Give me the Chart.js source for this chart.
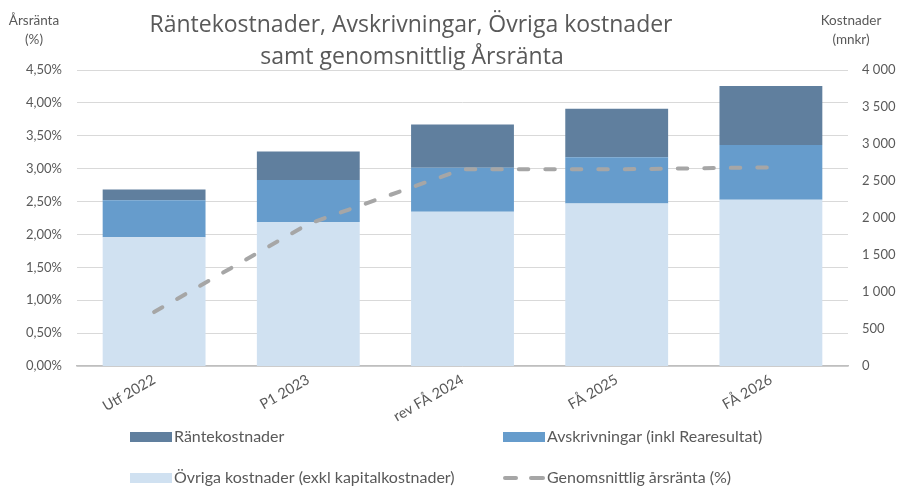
<!DOCTYPE html>
<html>
<head>
<meta charset="utf-8">
<script src="https://cdn.jsdelivr.net/npm/chart.js@4.4.1/dist/chart.umd.min.js"></script>
<style>
  html, body { margin: 0; padding: 0; background: #fff; }
  #wrap { width: 897px; height: 489px; position: relative; }
</style>
</head>
<body>
<div id="wrap"><canvas id="chart"></canvas></div>
<script>
// Data
const categories = ['Utf 2022', 'P1 2023', 'rev FÅ 2024', 'FÅ 2025', 'FÅ 2026'];
const ovrigaKostnader = [1740, 1945, 2085, 2195, 2245];   // mnkr
const avskrivningar = [500, 570, 595, 625, 740];          // mnkr
const rantekostnader = [145, 385, 585, 655, 800];         // mnkr
const arsranta = [0.82, 2.16, 2.99, 2.99, 3.02];          // %
const leftTicks = { min: 0, max: 4.5, step: 0.5 };
const rightTicks = { min: 0, max: 4000, step: 500 };

const textColor = '#595959';
const fontFamily = 'Lato, "Open Sans", sans-serif';

// Title, axis captions and the two-column legend are drawn by hand
const decorPlugin = {
    id: 'decor',
    afterDraw(chart) {
        const c = chart.ctx;
        c.save();
        c.fillStyle = textColor;
        c.textBaseline = 'middle';
        c.textAlign = 'center';

        // Title
        c.font = '23px "Open Sans", sans-serif';
        c.fillText('Räntekostnader, Avskrivningar, Övriga kostnader', 411, 25);
        c.fillText('samt genomsnittlig Årsränta', 412, 57);

        // Axis captions
        c.font = '13.5px ' + fontFamily;
        c.fillText('Årsränta', 34, 21);
        c.fillText('(%)', 34, 40);
        c.fillText('Kostnader', 851, 21);
        c.fillText('(mnkr)', 851, 40);

        // Legend
        c.font = '16px ' + fontFamily;
        c.textAlign = 'left';
        const ds = chart.data.datasets;
        const items = [
            { d: ds[2], x: 130, y: 437 },
            { d: ds[1], x: 503, y: 437 },
            { d: ds[0], x: 130, y: 478 },
            { d: ds[3], x: 503, y: 478 }
        ];
        items.forEach(it => {
            if (it.d.type === 'line') {
                c.strokeStyle = it.d.borderColor;
                c.lineWidth = 4;
                c.lineCap = 'round';
                c.beginPath(); c.moveTo(it.x + 2, it.y); c.lineTo(it.x + 13, it.y); c.stroke();
                c.beginPath(); c.moveTo(it.x + 28, it.y); c.lineTo(it.x + 40, it.y); c.stroke();
            } else {
                c.fillStyle = it.d.backgroundColor;
                c.fillRect(it.x, it.y - 5, 42, 10);
            }
            c.fillStyle = textColor;
            c.fillText(it.d.label, it.x + 44, it.y);
        });
        c.restore();
    }
};

const ctx = document.getElementById('chart').getContext('2d');
const chart = new Chart(ctx, {
    type: 'bar',
    data: {
        labels: categories,
        datasets: [
            {
                label: 'Övriga kostnader (exkl kapitalkostnader)',
                data: ovrigaKostnader,
                backgroundColor: '#D0E1F1',
                yAxisID: 'y1',
                order: 1
            },
            {
                label: 'Avskrivningar (inkl Rearesultat)',
                data: avskrivningar,
                backgroundColor: '#669CCC',
                yAxisID: 'y1',
                order: 1
            },
            {
                label: 'Räntekostnader',
                data: rantekostnader,
                backgroundColor: '#607F9E',
                yAxisID: 'y1',
                order: 1
            },
            {
                type: 'line',
                label: 'Genomsnittlig årsränta (%)',
                data: arsranta,
                borderColor: '#A6A6A6',
                borderWidth: 4,
                borderDash: [9.5, 17],
                borderCapStyle: 'round',
                pointRadius: 0,
                tension: 0,
                fill: false,
                yAxisID: 'y',
                order: 0
            }
        ]
    },
    options: {
        responsive: true,
        maintainAspectRatio: false,
        animation: false,
        layout: { padding: { top: 70, left: 0, right: 0, bottom: 0 } },
        datasets: {
            bar: { categoryPercentage: 1, barPercentage: 0.667, borderWidth: 0 }
        },
        plugins: {
            legend: { display: false },
            title: { display: false },
            tooltip: { enabled: false }
        },
        scales: {
            x: {
                stacked: true,
                grid: { display: false, drawTicks: false },
                border: { display: true, color: '#BFBFBF', width: 1.5 },
                ticks: {
                    color: textColor,
                    font: { family: fontFamily, size: 14.5 },
                    minRotation: 30,
                    maxRotation: 30,
                    padding: 5
                },
                afterFit(scale) { scale.height = 123; }
            },
            y: {
                position: 'left',
                min: leftTicks.min,
                max: leftTicks.max,
                grid: { color: '#D9D9D9', lineWidth: 1, drawTicks: false },
                border: { display: false },
                ticks: {
                    stepSize: leftTicks.step,
                    color: textColor,
                    font: { family: fontFamily, size: 13 },
                    padding: 15,
                    callback: v => v.toFixed(2).replace('.', ',') + '%'
                },
                afterFit(scale) { scale.width = 77; }
            },
            y1: {
                position: 'right',
                stacked: true,
                min: rightTicks.min,
                max: rightTicks.max,
                grid: { display: false, drawTicks: false },
                border: { display: false },
                ticks: {
                    stepSize: rightTicks.step,
                    color: textColor,
                    font: { family: fontFamily, size: 13 },
                    padding: 14,
                    callback: v => v >= 1000 ? Math.floor(v / 1000) + ' ' + String(v % 1000).padStart(3, '0') : String(v)
                },
                afterFit(scale) { scale.width = 49; }
            }
        }
    },
    plugins: [decorPlugin]
});
</script>
</body>
</html>
